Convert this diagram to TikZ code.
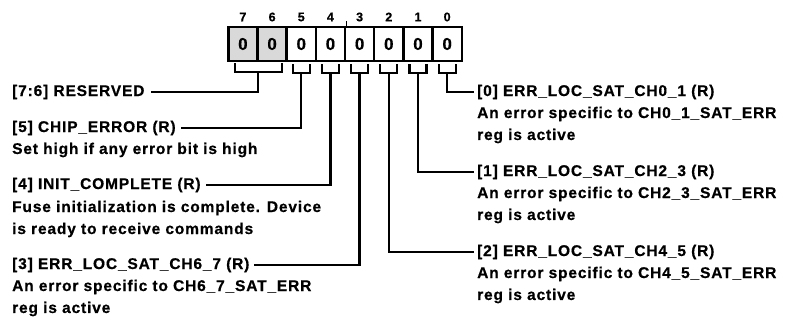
\documentclass[tikz,border=0pt]{standalone}
\usepackage{fontspec}
\setmainfont{Liberation Sans}[LetterSpace=5.5, BoldFeatures={FakeBold=0.6}]
\begin{document}
\begin{tikzpicture}[x=1pt,y=-1pt,
  cell/.style={draw, line width=2.4pt, minimum width=29.2pt, minimum height=34pt, inner sep=0pt,
    font=\bfseries\fontsize{17}{17}\selectfont},
  bitnum/.style={inner sep=0pt, font=\bfseries\fontsize{12.5}{12.5}\selectfont},
  lab/.style={anchor=west, inner sep=0pt, font=\bfseries\fontsize{15.5}{18}\selectfont},
  conn/.style={line width=2.3pt, line cap=rect}]
\useasboundingbox (0,0) rectangle (785,320);
\fill[white] (0,0) rectangle (785,320);
% register cells
\foreach \i in {7,...,0} {
  \pgfmathsetmacro{\cx}{242.9+29.18*(7-\i)}
  \node[bitnum] (n\i) at (\cx,17) {\i};
}
\node[cell, fill=gray!30] (c7) at (242.9,44) {0};
\node[cell, fill=gray!30] (c6) at (272.08,44) {0};
\node[cell] (c5) at (301.26,44) {0};
\node[cell] (c4) at (330.44,44) {0};
\node[cell] (c3) at (359.62,44) {0};
\node[cell] (c2) at (388.8,44) {0};
\node[cell] (c1) at (417.98,44) {0};
\node[cell] (c0) at (447.16,44) {0};
\draw[line width=1pt] (c4.north east) -- ++(0,-5);
% brackets
\coordinate (b76) at (258,72);
\draw[conn] (235,64) |- (282,72) -- (282,64);
\foreach \i in {5,4,3,2,1,0} {
  \coordinate (b\i) at ([yshift=-11pt]c\i.south);
  \draw[conn] ([xshift=-8.5pt,yshift=-3pt]c\i.south) |- ([xshift=8.5pt,yshift=-11pt]c\i.south) -- ([xshift=8.5pt,yshift=-3pt]c\i.south);
}
% left labels
\node[lab] (l76) at (12,92) {[7:6] RESERVED};
\node[lab] (l5) at (12,128) {[5] CHIP\_ERROR (R)};
\node[lab] (l5a) at (12,150) {Set high if any error bit is high};
\node[lab] (l4) at (12,185) {[4] INIT\_COMPLETE (R)};
\node[lab] (l4a) at (12,208) {Fuse initialization is complete. Device};
\node[lab] (l4b) at (12,230) {is ready to receive commands};
\node[lab] (l3) at (12,265) {[3] ERR\_LOC\_SAT\_CH6\_7 (R)};
\node[lab] (l3a) at (12,287) {An error specific to CH6\_7\_SAT\_ERR};
\node[lab] (l3b) at (12,309) {reg is active};
% right labels
\node[lab] (r0) at (477,92) {[0] ERR\_LOC\_SAT\_CH0\_1 (R)};
\node[lab] (r0a) at (477,114) {An error specific to CH0\_1\_SAT\_ERR};
\node[lab] (r0b) at (477,136) {reg is active};
\node[lab] (r1) at (477,172) {[1] ERR\_LOC\_SAT\_CH2\_3 (R)};
\node[lab] (r1a) at (477,194) {An error specific to CH2\_3\_SAT\_ERR};
\node[lab] (r1b) at (477,216) {reg is active};
\node[lab] (r2) at (477,252) {[2] ERR\_LOC\_SAT\_CH4\_5 (R)};
\node[lab] (r2a) at (477,274) {An error specific to CH4\_5\_SAT\_ERR};
\node[lab] (r2b) at (477,296) {reg is active};
% connectors
\draw[conn] (b76) |- ([xshift=7pt]l76.east);
\draw[conn] (b5) |- ([xshift=6pt]l5.east);
\draw[conn] (b4) |- ([xshift=6pt]l4.east);
\draw[conn] (b3) |- ([xshift=6pt]l3.east);
\draw[conn] (b0) |- ([xshift=-4pt]r0.west);
\draw[conn] (b1) |- ([xshift=-4pt]r1.west);
\draw[conn] (b2) |- ([xshift=-4pt]r2.west);
\end{tikzpicture}
\end{document}
